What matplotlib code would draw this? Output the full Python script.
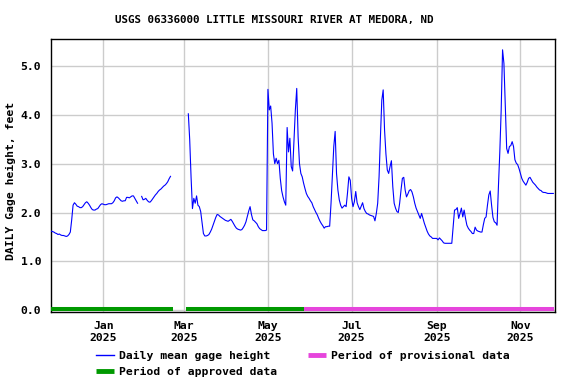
import numpy as np
import pandas as pd
import matplotlib
matplotlib.use("Agg")
import matplotlib.pyplot as plt
import matplotlib.dates as mdates
from matplotlib.lines import Line2D

nan = np.nan
title = "USGS 06336000 LITTLE MISSOURI RIVER AT MEDORA, ND"
ylabel = "DAILY Gage height, feet"
start_date = "2024-11-24"

# daily mean gage height (feet), one value per day from start_date
gage_height = [
    1.62, 1.61, 1.60, 1.58, 1.57, 1.55, 1.56, 1.54, 1.53, 1.53,
    1.52, 1.51, 1.52, 1.55, 1.60, 1.85, 2.15, 2.20, 2.17, 2.13,
    2.12, 2.10, 2.10, 2.12, 2.16, 2.20, 2.22, 2.19, 2.15, 2.10,
    2.06, 2.05, 2.05, 2.07, 2.08, 2.12, 2.16, 2.18, 2.17, 2.16,
    2.16, 2.17, 2.18, 2.18, 2.18, 2.20, 2.24, 2.30, 2.32, 2.30,
    2.27, 2.24, 2.23, 2.24, 2.24, 2.31, 2.31, 2.30, 2.32, 2.34,
    2.34, 2.29, 2.24, 2.19, nan, nan, 2.33, 2.26, 2.27, 2.29,
    2.25, 2.22, 2.21, 2.24, 2.28, 2.32, 2.36, 2.39, 2.43, 2.46,
    2.48, 2.51, 2.54, 2.56, 2.59, 2.63, 2.69, 2.74,
    nan, nan, nan, nan, nan, nan, nan, nan, nan, nan, nan, nan,
    4.02, 3.49, 2.72, 2.08, 2.29, 2.19, 2.34, 2.15, 2.12, 2.02,
    1.80, 1.57, 1.52, 1.52, 1.53, 1.55, 1.60, 1.66, 1.74, 1.82,
    1.90, 1.96, 1.95, 1.92, 1.90, 1.88, 1.86, 1.84, 1.83, 1.82,
    1.84, 1.86, 1.82, 1.77, 1.72, 1.68, 1.66, 1.65, 1.64, 1.65,
    1.69, 1.74, 1.81, 1.92, 2.03, 2.12, 1.96, 1.85, 1.83, 1.80,
    1.77, 1.71, 1.67, 1.65, 1.63, 1.63, 1.63, 1.64, 4.52, 4.10,
    4.18, 3.83, 3.20, 3.00, 3.11, 3.00, 3.07, 2.70, 2.45, 2.32,
    2.22, 2.15, 3.74, 3.24, 3.52, 2.94, 2.85, 3.49, 4.10, 4.54,
    3.55, 3.00, 2.80, 2.73, 2.60, 2.49, 2.39, 2.33, 2.29, 2.24,
    2.20, 2.12, 2.06, 2.00, 1.95, 1.88, 1.82, 1.77, 1.73, 1.68,
    1.71, 1.71, 1.72, 1.72, 2.19, 2.77, 3.35, 3.66, 2.80, 2.46,
    2.26, 2.15, 2.09, 2.12, 2.15, 2.12, 2.40, 2.73, 2.66, 2.29,
    2.12, 2.22, 2.43, 2.20, 2.12, 2.06, 2.13, 2.20, 2.08, 2.02,
    1.98, 1.97, 1.95, 1.94, 1.93, 1.92, 1.83, 1.98, 2.19, 2.73,
    3.55, 4.30, 4.51, 3.69, 3.20, 2.87, 2.80, 2.94, 3.06, 2.53,
    2.19, 2.09, 2.02, 2.00, 2.19, 2.46, 2.70, 2.72, 2.46, 2.32,
    2.38, 2.45, 2.47, 2.42, 2.32, 2.19, 2.09, 2.02, 1.95, 1.88,
    1.98, 1.88, 1.78, 1.70, 1.62, 1.56, 1.52, 1.50, 1.47, 1.47,
    1.47, 1.47, 1.44, 1.48, 1.45, 1.42, 1.38, 1.37, 1.37, 1.37,
    1.37, 1.37, 1.37, 1.71, 2.05, 2.06, 2.10, 1.88, 1.98, 2.09,
    1.91, 2.05, 1.88, 1.74, 1.68, 1.64, 1.61, 1.57, 1.57, 1.70,
    1.64, 1.62, 1.61, 1.60, 1.60, 1.75, 1.88, 1.91, 2.15, 2.36,
    2.44, 2.15, 1.90, 1.81, 1.79, 1.74, 2.54, 3.24, 4.10, 5.33,
    5.05, 4.17, 3.31, 3.21, 3.35, 3.37, 3.45, 3.35, 3.08, 3.01,
    2.98, 2.90, 2.80, 2.70, 2.64, 2.60, 2.56, 2.62, 2.70, 2.72,
    2.67, 2.62, 2.59, 2.56, 2.52, 2.49, 2.46, 2.45, 2.42, 2.41,
    2.41, 2.40, 2.39, 2.39, 2.39, 2.39, 2.39,
]

approved_periods = [("2024-11-24 00:00", "2025-02-20 20:00"),
                    ("2025-03-02 08:00", "2025-05-27 08:00")]
provisional_periods = [("2025-05-27 08:00", "2025-11-25 20:00")]

tick_dates = ["2025-01-01", "2025-03-01", "2025-05-01",
              "2025-07-01", "2025-09-01", "2025-11-01"]
tick_labels = ["Jan\n2025", "Mar\n2025", "May\n2025",
               "Jul\n2025", "Sep\n2025", "Nov\n2025"]
y_ticks = [0.0, 1.0, 2.0, 3.0, 4.0, 5.0]
y_tick_labels = ["0.0", "1.0", "2.0", "3.0", "4.0", "5.0"]

legend_labels = ["Daily mean gage height", "Period of approved data",
                 "Period of provisional data"]

line_color = "#0000ff"
approved_color = "#009900"
provisional_color = "#e645dc"

plt.rcParams["font.family"] = ["DejaVu Sans Mono"]
plt.rcParams["font.weight"] = "bold"
FS = 8.2

fig = plt.figure(figsize=(5.76, 3.84), dpi=100)
ax = fig.add_axes([51 / 576, 1 - 311.7 / 384, (554.7 - 51) / 576, (311.7 - 39.3) / 384])

dates = pd.date_range(start_date, periods=len(gage_height), freq="D")
ax.plot(dates, gage_height, color=line_color, lw=0.8, zorder=3)

bar_y = 0.03
for s, e in approved_periods:
    ax.plot([pd.Timestamp(s), pd.Timestamp(e)], [bar_y, bar_y], color=approved_color,
            lw=2.9, solid_capstyle="butt", zorder=4, clip_on=False)
for s, e in provisional_periods:
    ax.plot([pd.Timestamp(s), pd.Timestamp(e)], [bar_y, bar_y], color=provisional_color,
            lw=2.9, solid_capstyle="butt", zorder=4, clip_on=False)

ax.set_xlim(pd.Timestamp("2024-11-23 22:00"), pd.Timestamp("2025-11-26 00:00"))
ax.set_ylim(-0.03, 5.545)

ax.set_xticks([pd.Timestamp(t) for t in tick_dates])
ax.set_xticklabels(tick_labels, fontsize=FS, fontweight="bold", linespacing=1.15)
ax.set_yticks(y_ticks)
ax.set_yticklabels(y_tick_labels, fontsize=FS, fontweight="bold")
ax.tick_params(axis="both", length=0)
ax.tick_params(axis="x", pad=7)
ax.tick_params(axis="y", pad=7)

ax.grid(True, color="#cccccc", lw=1.0, zorder=0)
ax.set_axisbelow(True)
for sp in ax.spines.values():
    sp.set_color("black")
    sp.set_linewidth(1.0)

fig.text(274.5 / 576, 1 - 20 / 384, title, ha="center", va="center",
         fontsize=FS - 0.4, fontweight="bold")
fig.text(11 / 576, 1 - 181 / 384, ylabel, ha="center", va="center",
         rotation=90, fontsize=FS, fontweight="bold")

handles = [Line2D([], [], color=line_color, lw=1.0),
           Line2D([], [], color=approved_color, lw=3.5, solid_capstyle="butt"),
           Line2D([], [], color=provisional_color, lw=3.5, solid_capstyle="butt")]
leg = fig.legend(handles, legend_labels, loc="upper left",
                 bbox_to_anchor=(96 / 576, 1 - 351 / 384), ncol=2, frameon=False,
                 prop={"size": FS, "weight": "bold"}, handlelength=1.55,
                 handletextpad=0.45, columnspacing=2.75, labelspacing=0.52,
                 borderpad=0, borderaxespad=0)

fig.savefig("out.png", dpi=100)
